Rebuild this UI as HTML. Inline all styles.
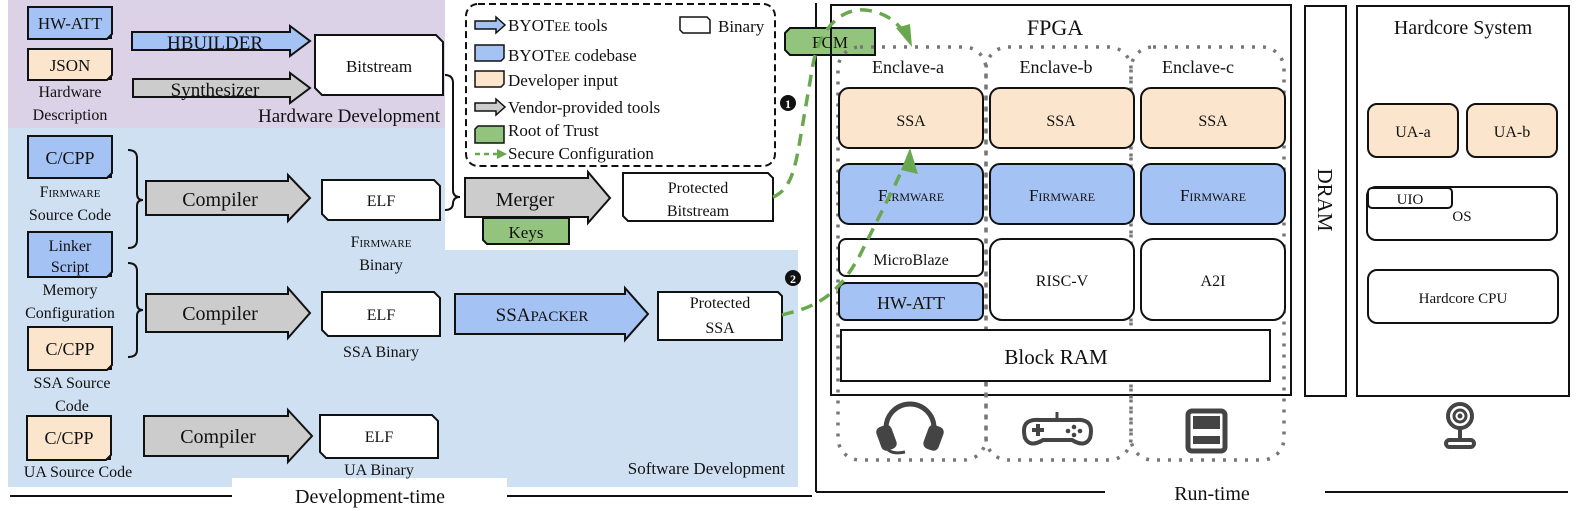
<!DOCTYPE html>
<html><head><meta charset="utf-8"><style>
html,body{margin:0;padding:0;background:#fff}
svg{display:block}
text{font-family:"Liberation Serif",serif;fill:#111}
</style></head><body>
<svg width="1578" height="511" viewBox="0 0 1578 511" xmlns="http://www.w3.org/2000/svg">
<!-- backgrounds -->
<rect x="8" y="0" width="437" height="128" fill="#dcd2e8"/>
<rect x="8" y="128" width="437" height="122" fill="#cfe0f2"/>
<rect x="8" y="250" width="790" height="237" fill="#cfe0f2"/>
<rect x="232" y="478" width="275" height="33" fill="#fff"/>

<!-- timeline lines -->
<line x1="10" y1="496" x2="232" y2="496" stroke="#111" stroke-width="2"/>
<line x1="507" y1="496" x2="812" y2="496" stroke="#111" stroke-width="2"/>
<line x1="816" y1="3" x2="816" y2="492" stroke="#111" stroke-width="2"/>
<line x1="816" y1="492" x2="1105" y2="492" stroke="#111" stroke-width="2"/>
<line x1="1325" y1="492" x2="1568" y2="492" stroke="#111" stroke-width="2"/>
<text x="370" y="503" font-size="20" text-anchor="middle">Development-time</text>
<text x="1212" y="500" font-size="20" text-anchor="middle">Run-time</text>

<!-- Hardware dev -->
<g stroke="#111" stroke-width="2">
<path d="M28,7 H112 V34 L107,39 H28 Z" fill="#a4c2f4"/>
<path d="M28,49 H112 V75 L107,80 H28 Z" fill="#fce5cd"/>
<path d="M132,32 H290 V26 L310,41 L290,56 V50 H132 Z" fill="#a4c2f4"/>
<path d="M133,79 H290 V73 L310,88 L290,103 V97 H133 Z" fill="#ccc"/>
<path d="M315,35 H436 L443,42 V95 H322 L315,88 Z" fill="#fff"/>
</g>
<path d="M112,34 L107,39 L112,39Z M112,75 L107,80 L112,80Z" fill="#111"/>
<text x="70" y="29" font-size="17" text-anchor="middle">HW-ATT</text>
<text x="70" y="71" font-size="17" text-anchor="middle">JSON</text>
<text x="70" y="97" font-size="16" text-anchor="middle">Hardware</text>
<text x="70" y="120" font-size="16" text-anchor="middle">Description</text>
<text x="215" y="49" font-size="19" text-anchor="middle">HBUILDER</text>
<text x="215" y="96" font-size="19" text-anchor="middle">Synthesizer</text>
<text x="379" y="72" font-size="17" text-anchor="middle">Bitstream</text>
<text x="440" y="122" font-size="19" text-anchor="end">Hardware Development</text>

<!-- braces -->
<g fill="none" stroke="#111" stroke-width="2">
<path d="M128,150 Q137,150 137,158 V194 Q137,200 143,200 Q137,200 137,206 V240 Q137,248 128,248"/>
<path d="M128,263 Q137,263 137,271 V304 Q137,310 143,310 Q137,310 137,316 V350 Q137,357 128,357"/>
<path d="M445,75 Q453,75 453,83 V190 Q453,197 460,197 Q453,197 453,204 V203 Q453,210 445,210"/>
</g>

<!-- firmware row -->
<g stroke="#111" stroke-width="2">
<path d="M28,136 H112 V173 L107,178 H28 Z" fill="#a4c2f4"/>
<path d="M28,232 H112 V272 L107,277 H28 Z" fill="#a4c2f4"/>
<path d="M146,181 H288 V175 L310,198 L288,221 V215 H146 Z" fill="#ccc"/>
<path d="M322,180 H434 L440,186 V220 H328 L322,214 Z" fill="#fff"/>
<path d="M28,327 H112 V365 L107,370 H28 Z" fill="#fce5cd"/>
<path d="M146,294 H288 V288 L310,313 L288,338 V332 H146 Z" fill="#ccc"/>
<path d="M322,292 H434 L440,298 V336 H328 L322,330 Z" fill="#fff"/>
<path d="M27,416 H111 V455 L106,460 H27 Z" fill="#fce5cd"/>
<path d="M144,416 H288 V410 L312,436 L288,462 V456 H144 Z" fill="#ccc"/>
<path d="M320,415 H432 L438,421 V458 H326 L320,452 Z" fill="#fff"/>
</g>
<path d="M112,173 L107,178 L112,178Z M112,272 L107,277 L112,277Z M112,365 L107,370 L112,370Z M111,455 L106,460 L111,460Z" fill="#111"/>
<text x="70" y="164" font-size="18" text-anchor="middle">C/CPP</text>
<text x="70" y="197" font-size="16" text-anchor="middle" style="font-variant:small-caps">Firmware</text>
<text x="70" y="220" font-size="16" text-anchor="middle">Source Code</text>
<text x="70" y="251" font-size="16" text-anchor="middle">Linker</text>
<text x="70" y="272" font-size="16" text-anchor="middle">Script</text>
<text x="70" y="295" font-size="16" text-anchor="middle">Memory</text>
<text x="70" y="318" font-size="16" text-anchor="middle">Configuration</text>
<text x="70" y="355" font-size="18" text-anchor="middle">C/CPP</text>
<text x="72" y="388" font-size="16" text-anchor="middle">SSA Source</text>
<text x="72" y="411" font-size="16" text-anchor="middle">Code</text>
<text x="69" y="444" font-size="18" text-anchor="middle">C/CPP</text>
<text x="78" y="477" font-size="16" text-anchor="middle">UA Source Code</text>
<text x="220" y="206" font-size="20" text-anchor="middle">Compiler</text>
<text x="220" y="320" font-size="20" text-anchor="middle">Compiler</text>
<text x="218" y="443" font-size="20" text-anchor="middle">Compiler</text>
<text x="381" y="206" font-size="16" text-anchor="middle">ELF</text>
<text x="381" y="247" font-size="16" text-anchor="middle" style="font-variant:small-caps">Firmware</text>
<text x="381" y="270" font-size="16" text-anchor="middle">Binary</text>
<text x="381" y="320" font-size="16" text-anchor="middle">ELF</text>
<text x="381" y="357" font-size="16" text-anchor="middle">SSA Binary</text>
<text x="379" y="442" font-size="16" text-anchor="middle">ELF</text>
<text x="379" y="475" font-size="16" text-anchor="middle">UA Binary</text>
<text x="785" y="474" font-size="17" text-anchor="end">Software Development</text>

<!-- legend -->
<rect x="466" y="4" width="309" height="162" rx="12" fill="#fff" stroke="#111" stroke-width="2" stroke-dasharray="7 4"/>
<g stroke="#111" stroke-width="1.5">
<path d="M475,21 H496 V17 L505,25 L496,33 V29 H475 Z" fill="#a4c2f4"/>
<path d="M680,17 H707 L710,20 V33 H683 L680,30 Z" fill="#fff"/>
<path d="M475,45 H504 V58 L501,61 H475 Z" fill="#a4c2f4"/>
<path d="M475,71 H504 V84 L501,87 H475 Z" fill="#fce5cd"/>
<path d="M475,103 H496 V99 L505,107 L496,115 V111 H475 Z" fill="#ccc"/>
<path d="M478,126 H504 V143 H475 V129 Z" fill="#93c47d"/>
</g>
<line x1="475" y1="154" x2="498" y2="154" stroke="#6aa84f" stroke-width="2.5" stroke-dasharray="5 4"/>
<path d="M497,149 L507,154 L497,159 Z" fill="#6aa84f"/>
<text x="508" y="31" font-size="17">BYOT<tspan font-size="13">EE</tspan> tools</text>
<text x="718" y="32" font-size="17">Binary</text>
<text x="508" y="61" font-size="17">BYOT<tspan font-size="13">EE</tspan> codebase</text>
<text x="508" y="86" font-size="17">Developer input</text>
<text x="508" y="113" font-size="17">Vendor-provided tools</text>
<text x="508" y="136" font-size="17">Root of Trust</text>
<text x="508" y="159" font-size="17">Secure Configuration</text>

<!-- merger -->
<g stroke="#111" stroke-width="2">
<path d="M483,218 H569 V244 H487 L483,240 Z" fill="#93c47d"/>
<path d="M465,178 H588 V172 L610,198 L588,223 V217 H465 Z" fill="#ccc"/>
<path d="M623,173 H768 L773,178 V221 H628 L623,216 Z" fill="#fff"/>
<path d="M455,294 H625 V288 L648,314 L625,340 V334 H455 Z" fill="#a4c2f4"/>
<path d="M658,292 H778 L782,296 V340 H658 Z" fill="#fff"/>
<path d="M785,33 L790,28 H875 V55 H790 L785,50 Z" fill="#93c47d"/>
</g>
<text x="525" y="206" font-size="20" text-anchor="middle">Merger</text>
<text x="526" y="238" font-size="17" text-anchor="middle">Keys</text>
<text x="698" y="193" font-size="16" text-anchor="middle">Protected</text>
<text x="698" y="216" font-size="16" text-anchor="middle">Bitstream</text>
<text x="542" y="321" font-size="19" text-anchor="middle">SSA<tspan font-size="15">PACKER</tspan></text>
<text x="720" y="308" font-size="16" text-anchor="middle">Protected</text>
<text x="720" y="333" font-size="16" text-anchor="middle">SSA</text>
<text x="830" y="48" font-size="17" text-anchor="middle">FCM</text>

<!-- FPGA -->
<rect x="831" y="5" width="460" height="390" fill="none" stroke="#111" stroke-width="2"/>
<text x="1055" y="35" font-size="22" text-anchor="middle">FPGA</text>
<g fill="none" stroke="#777" stroke-width="3.5" stroke-dasharray="3 8">
<rect x="838" y="47" width="148" height="413" rx="22"/>
<rect x="986" y="47" width="145" height="413" rx="22"/>
<rect x="1131" y="47" width="153" height="413" rx="22"/>
</g>
<text x="908" y="73" font-size="18" text-anchor="middle">Enclave-a</text>
<text x="1056" y="73" font-size="18" text-anchor="middle">Enclave-b</text>
<text x="1198" y="73" font-size="18" text-anchor="middle">Enclave-c</text>
<g stroke="#111" stroke-width="2">
<rect x="839" y="88" width="144" height="60" rx="10" fill="#fce5cd"/>
<rect x="990" y="88" width="144" height="60" rx="10" fill="#fce5cd"/>
<rect x="1141" y="88" width="144" height="60" rx="10" fill="#fce5cd"/>
<rect x="839" y="164" width="144" height="60" rx="10" fill="#a4c2f4"/>
<rect x="990" y="164" width="144" height="60" rx="10" fill="#a4c2f4"/>
<rect x="1141" y="164" width="144" height="60" rx="10" fill="#a4c2f4"/>
<rect x="839" y="239" width="144" height="37" rx="7" fill="#fff"/>
<rect x="839" y="283" width="144" height="37" rx="7" fill="#a4c2f4"/>
<rect x="990" y="239" width="144" height="81" rx="12" fill="#fff"/>
<rect x="1141" y="239" width="144" height="81" rx="12" fill="#fff"/>
<rect x="841" y="330" width="429" height="51" fill="#fff"/>
</g>
<text x="911" y="126" font-size="16" text-anchor="middle">SSA</text>
<text x="1061" y="126" font-size="16" text-anchor="middle">SSA</text>
<text x="1213" y="126" font-size="16" text-anchor="middle">SSA</text>
<text x="911" y="201" font-size="17" text-anchor="middle" style="font-variant:small-caps">Firmware</text>
<text x="1062" y="201" font-size="17" text-anchor="middle" style="font-variant:small-caps">Firmware</text>
<text x="1213" y="201" font-size="17" text-anchor="middle" style="font-variant:small-caps">Firmware</text>
<text x="911" y="265" font-size="16" text-anchor="middle">MicroBlaze</text>
<text x="911" y="309" font-size="18" text-anchor="middle">HW-ATT</text>
<text x="1062" y="286" font-size="16" text-anchor="middle">RISC-V</text>
<text x="1213" y="286" font-size="16" text-anchor="middle">A2I</text>
<text x="1056" y="364" font-size="21" text-anchor="middle">Block RAM</text>

<!-- icons -->
<g fill="none" stroke="#444" stroke-width="5">
<path d="M886,440 V428 A24,24 0 0 1 934,428 V440"/>
<rect x="881" y="428" width="11" height="20" rx="3" fill="#444" transform="rotate(-20 886 438)"/>
<rect x="928" y="428" width="11" height="20" rx="3" fill="#444" transform="rotate(20 934 438)"/>
<path d="M886,447 Q890,455 905,452" stroke-width="3"/>
<path d="M1025,438 Q1020,418 1040,420 H1075 Q1095,418 1090,438 Q1085,448 1072,440 H1043 Q1030,448 1025,438 Z" stroke-width="4"/>
<line x1="1057" y1="412" x2="1057" y2="420" stroke-width="3"/>
<rect x="1188" y="411" width="37" height="40" rx="4" stroke-width="5"/>
<circle cx="1460" cy="416" r="12" stroke-width="4"/>
<circle cx="1460" cy="416" r="6" stroke-width="3"/>
<path d="M1460,428 V438" stroke-width="4"/>
<rect x="1446" y="440" width="28" height="7" rx="3.5" stroke-width="4"/>
</g>
<path d="M1032,430 H1044 M1038,424 V436" stroke="#444" stroke-width="4"/>
<circle cx="1074" cy="427" r="2.3" fill="#444"/><circle cx="1080" cy="431" r="2.3" fill="#444"/><circle cx="1068" cy="431" r="2.3" fill="#444"/><circle cx="1074" cy="435" r="2.3" fill="#444"/>
<rect x="1193" y="416" width="27" height="13" fill="#444"/>
<rect x="1193" y="436" width="27" height="8" fill="#444"/>
<circle cx="1460" cy="416" r="2.5" fill="#444"/>

<!-- DRAM -->
<rect x="1305" y="6" width="41" height="390" fill="none" stroke="#111" stroke-width="2"/>
<text x="0" y="0" font-size="21" text-anchor="middle" transform="translate(1318,200) rotate(90)">DRAM</text>
<!-- Hardcore -->
<rect x="1357" y="6" width="212" height="390" fill="none" stroke="#111" stroke-width="2"/>
<text x="1463" y="34" font-size="20" text-anchor="middle">Hardcore System</text>
<g stroke="#111" stroke-width="2">
<rect x="1368" y="104" width="90" height="53" rx="9" fill="#fce5cd"/>
<rect x="1467" y="104" width="90" height="53" rx="9" fill="#fce5cd"/>
<rect x="1367" y="187" width="190" height="53" rx="9" fill="#fff"/>
<rect x="1368" y="188" width="84" height="20" rx="4" fill="#fff"/>
<rect x="1368" y="270" width="190" height="53" rx="9" fill="#fff"/>
</g>
<text x="1413" y="137" font-size="16" text-anchor="middle">UA-a</text>
<text x="1512" y="137" font-size="16" text-anchor="middle">UA-b</text>
<text x="1410" y="204" font-size="15" text-anchor="middle">UIO</text>
<text x="1462" y="221" font-size="15" text-anchor="middle">OS</text>
<text x="1463" y="303" font-size="15" text-anchor="middle">Hardcore CPU</text>

<!-- secure config paths -->
<g fill="none" stroke="#6aa84f" stroke-width="3.5" stroke-dasharray="12 8">
<path d="M773,197 C790,190 795,170 800,140 L812,70 C818,30 840,8 865,10 C885,12 898,22 904,34"/>
<path d="M782,315 L800,310 C830,300 845,282 860,255 L895,185 L903,168"/>
</g>
<path d="M896,28 L912,47 L910,24 Z" fill="#6aa84f"/>
<path d="M901,170 L910,148 L918,174 Z" fill="#6aa84f"/>
<circle cx="788" cy="103" r="8" fill="#111"/>
<text x="788" y="108" font-size="12" text-anchor="middle" style="fill:#fff;font-weight:bold">1</text>
<circle cx="793" cy="278" r="8" fill="#111"/>
<text x="793" y="283" font-size="12" text-anchor="middle" style="fill:#fff;font-weight:bold">2</text>
</svg>
</body></html>
